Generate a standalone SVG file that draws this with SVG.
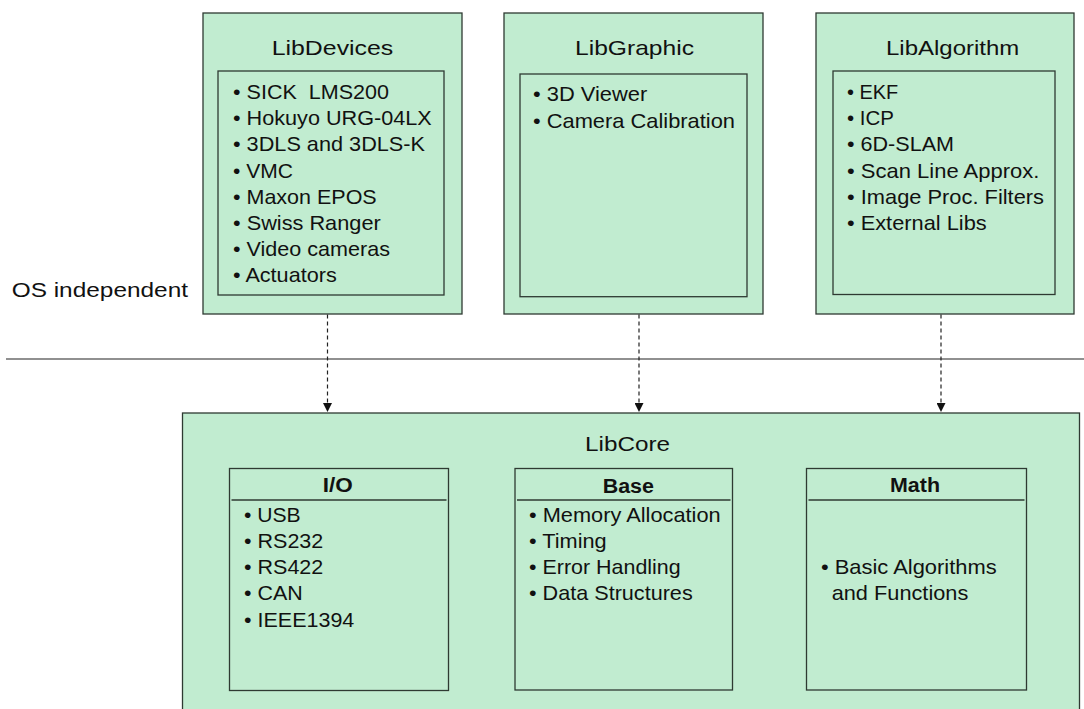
<svg xmlns="http://www.w3.org/2000/svg" width="1084" height="709" viewBox="0 0 1084 709">
<style>
.box{fill:#c1ecd0;stroke:#2e3a32;stroke-width:1.3}
.sep{stroke:#2e3a32;stroke-width:1.3}
text{font-family:"Liberation Sans",Arial,sans-serif;fill:#111;white-space:pre}
.t{font-size:21px}
.i{font-size:21px}
.h{font-size:20px;font-weight:bold}
.conn{stroke:#222;stroke-width:1.2;stroke-dasharray:4 3;fill:none}
.rule{stroke:#222;stroke-width:1.2}
</style>
<defs>
<marker id="arr" viewBox="0 0 10 10" refX="10" refY="5" markerWidth="9" markerHeight="9" markerUnits="userSpaceOnUse" orient="auto">
<path d="M0,0 L10,5 L0,10 z" fill="#111"/>
</marker>
</defs>
<rect width="1084" height="709" fill="#ffffff"/>

<g id="os-label">
<text class="t" x="11.7" y="297" textLength="176.3" lengthAdjust="spacingAndGlyphs">OS independent</text>
</g>
<line class="rule" x1="6" y1="359" x2="1084" y2="359"/>

<g id="libdevices">
<rect class="box" x="203" y="13" width="259" height="301"/>
<text class="t" x="271.7" y="55" textLength="121.6" lengthAdjust="spacingAndGlyphs">LibDevices</text>
<rect class="box" x="218" y="71" width="226" height="224"/>
<text class="i" x="233" y="99" textLength="156" lengthAdjust="spacingAndGlyphs">• SICK  LMS200</text>
<text class="i" x="233" y="125.2" textLength="198.7" lengthAdjust="spacingAndGlyphs">• Hokuyo URG-04LX</text>
<text class="i" x="233" y="151.4" textLength="192" lengthAdjust="spacingAndGlyphs">• 3DLS and 3DLS-K</text>
<text class="i" x="233" y="177.6" textLength="60" lengthAdjust="spacingAndGlyphs">• VMC</text>
<text class="i" x="233" y="203.8" textLength="143.7" lengthAdjust="spacingAndGlyphs">• Maxon EPOS</text>
<text class="i" x="233" y="230" textLength="147.7" lengthAdjust="spacingAndGlyphs">• Swiss Ranger</text>
<text class="i" x="233" y="256.2" textLength="157" lengthAdjust="spacingAndGlyphs">• Video cameras</text>
<text class="i" x="233" y="282.4" textLength="103.7" lengthAdjust="spacingAndGlyphs">• Actuators</text>
</g>

<g id="libgraphic">
<rect class="box" x="504" y="13" width="259" height="301"/>
<text class="t" x="575" y="55" textLength="119" lengthAdjust="spacingAndGlyphs">LibGraphic</text>
<rect class="box" x="520" y="74" width="227" height="222.7"/>
<text class="i" x="533" y="100.5" textLength="114.3" lengthAdjust="spacingAndGlyphs">• 3D Viewer</text>
<text class="i" x="533" y="128" textLength="202" lengthAdjust="spacingAndGlyphs">• Camera Calibration</text>
</g>

<g id="libalgorithm">
<rect class="box" x="816" y="13" width="258" height="301"/>
<text class="t" x="886" y="54.5" textLength="133.3" lengthAdjust="spacingAndGlyphs">LibAlgorithm</text>
<rect class="box" x="833" y="71" width="222" height="223.5"/>
<text class="i" x="847" y="99" textLength="51.3" lengthAdjust="spacingAndGlyphs">• EKF</text>
<text class="i" x="847" y="125.2" textLength="47" lengthAdjust="spacingAndGlyphs">• ICP</text>
<text class="i" x="847" y="151.4" textLength="107" lengthAdjust="spacingAndGlyphs">• 6D-SLAM</text>
<text class="i" x="847" y="177.6" textLength="192.3" lengthAdjust="spacingAndGlyphs">• Scan Line Approx.</text>
<text class="i" x="847" y="203.8" textLength="197" lengthAdjust="spacingAndGlyphs">• Image Proc. Filters</text>
<text class="i" x="847" y="230" textLength="139.7" lengthAdjust="spacingAndGlyphs">• External Libs</text>
</g>

<g id="libcore">
<rect class="box" x="182.5" y="413" width="897" height="310"/>
<text class="t" x="585" y="450.7" textLength="85" lengthAdjust="spacingAndGlyphs">LibCore</text>
</g>

<g id="io">
<rect class="box" x="229.5" y="468.5" width="219" height="222"/>
<line class="sep" x1="231.5" y1="500" x2="446.5" y2="500"/>
<text class="h" x="322.7" y="491.7" textLength="30" lengthAdjust="spacingAndGlyphs">I/O</text>
<text class="i" x="244" y="521.7" textLength="56.7" lengthAdjust="spacingAndGlyphs">• USB</text>
<text class="i" x="244" y="547.9" textLength="79.3" lengthAdjust="spacingAndGlyphs">• RS232</text>
<text class="i" x="244" y="574.2" textLength="79.3" lengthAdjust="spacingAndGlyphs">• RS422</text>
<text class="i" x="244" y="600.4" textLength="58.7" lengthAdjust="spacingAndGlyphs">• CAN</text>
<text class="i" x="244" y="626.7" textLength="110.3" lengthAdjust="spacingAndGlyphs">• IEEE1394</text>
</g>

<g id="base">
<rect class="box" x="515" y="468.5" width="217.5" height="221.5"/>
<line class="sep" x1="517" y1="500" x2="730.5" y2="500"/>
<text class="h" x="602.7" y="492.7" textLength="51.3" lengthAdjust="spacingAndGlyphs">Base</text>
<text class="i" x="529" y="521.7" textLength="191.7" lengthAdjust="spacingAndGlyphs">• Memory Allocation</text>
<text class="i" x="529" y="547.8" textLength="77.7" lengthAdjust="spacingAndGlyphs">• Timing</text>
<text class="i" x="529" y="573.9" textLength="151.7" lengthAdjust="spacingAndGlyphs">• Error Handling</text>
<text class="i" x="529" y="600" textLength="163.7" lengthAdjust="spacingAndGlyphs">• Data Structures</text>
</g>

<g id="math">
<rect class="box" x="806.5" y="468.5" width="220" height="221.5"/>
<line class="sep" x1="808.5" y1="500" x2="1024.5" y2="500"/>
<text class="h" x="890" y="491.7" textLength="50" lengthAdjust="spacingAndGlyphs">Math</text>
<text class="i" x="821" y="574" textLength="175.7" lengthAdjust="spacingAndGlyphs">• Basic Algorithms</text>
<text class="i" x="831.7" y="600" textLength="136.6" lengthAdjust="spacingAndGlyphs">and Functions</text>
</g>

<g id="connectors">
<line class="conn" x1="327.5" y1="314.5" x2="327.5" y2="412" marker-end="url(#arr)"/>
<line class="conn" x1="639" y1="314.5" x2="639" y2="412" marker-end="url(#arr)"/>
<line class="conn" x1="941" y1="314.5" x2="941" y2="412" marker-end="url(#arr)"/>
</g>
</svg>
